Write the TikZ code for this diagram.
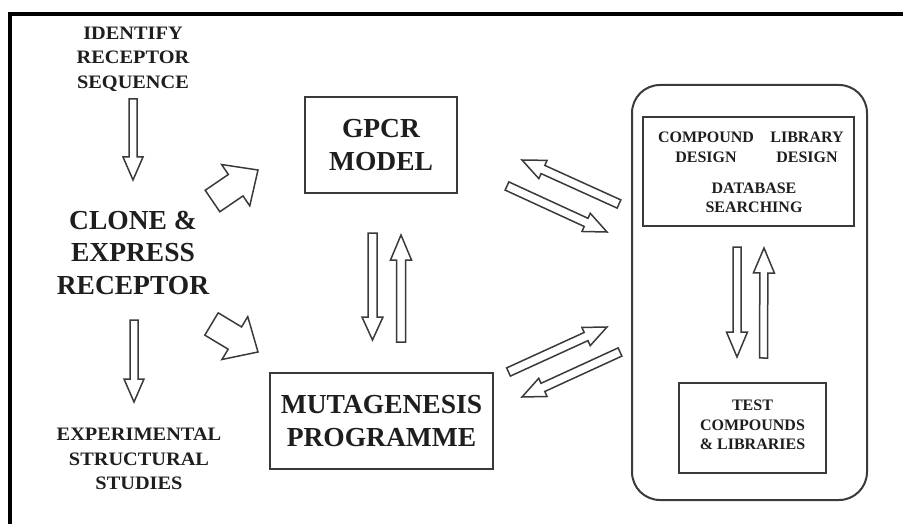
\documentclass[tikz,border=0pt]{standalone}
\usepackage{fontspec}
\setmainfont{Liberation Serif}
\newfontfamily\widefont[FakeStretch=1.07]{Liberation Serif}
\usetikzlibrary{calc}
\definecolor{ink}{HTML}{1E1E1E}
\definecolor{edge}{HTML}{3A3A3A}

% Outlined block arrow from #1 to #2: half shaft width #3, half head width #4, head length #5
\newcommand\hollowarrow[5]{%
  \coordinate (#1-b) at ($(#2)!#5!(#1)$);
  \draw[arrowline]
    ($(#1)!#3!90:(#2)$) -- ($(#1-b)!#3!-90:(#1)$) -- ($(#1-b)!#4!-90:(#1)$)
    -- (#2) -- ($(#1-b)!#4!90:(#1)$) -- ($(#1-b)!#3!90:(#1)$)
    -- ($(#1)!#3!-90:(#2)$) -- cycle;}

\begin{document}
\begin{tikzpicture}[x=1pt,y=-1pt,
  bigtext/.style={font=\bfseries\fontsize{27.5}{32.5}\selectfont, text=ink, align=center, inner sep=0pt},
  smalltext/.style={font=\widefont\bfseries\fontsize{19}{24.5}\selectfont, text=ink, align=center, inner sep=0pt},
  tinytext/.style={font=\bfseries\fontsize{16}{19.5}\selectfont, text=ink, align=center, inner sep=0pt},
  stepbox/.style={draw=edge, line width=2.2pt, inner sep=0pt},
  arrowline/.style={draw=edge, line width=1.5pt, line join=miter},
]
\useasboundingbox (0,0) rectangle (903,524);

% page frame (top and left rules)
\fill[black] (8,12) rectangle (903,16);
\fill[black] (8,12) rectangle (12,524);

% left column
\node[smalltext] (identify) at (133,59) {IDENTIFY\\RECEPTOR\\SEQUENCE};
\node[bigtext] (clone) at (133,252.5) {CLONE \&\\EXPRESS\\RECEPTOR};
\node[smalltext] (exper) at (139,459) {EXPERIMENTAL\\STRUCTURAL\\STUDIES};

% middle column
\node[stepbox, bigtext, minimum width=152pt, minimum height=96pt] (gpcr) at (381,145) {GPCR\\MODEL};
\node[stepbox, bigtext, minimum width=223pt, minimum height=96pt] (muta) at (381.5,421) {MUTAGENESIS\\PROGRAMME};

% right-hand design / test cycle
\node[draw=edge, line width=2pt, rounded corners=28pt, minimum width=235pt, minimum height=415pt] (cycle) at (749.5,292.5) {};
\node[stepbox, minimum width=211pt, minimum height=109pt] (design) at (748.5,171.5) {};
\node[tinytext] (cmpd) at (706,147.5) {COMPOUND\\DESIGN};
\node[tinytext] (lib) at (807,147.5) {LIBRARY\\DESIGN};
\node[tinytext] (dbase) at (754,198) {DATABASE\\SEARCHING};
\node[stepbox, minimum width=147pt, minimum height=90pt] (test) at (752.5,428) {};
\node[tinytext] (testtext) at (752.5,425) {TEST\\COMPOUNDS\\\& LIBRARIES};

% arrow end points
\coordinate (idA) at (133,99);    \coordinate (idB) at (133,180);
\coordinate (clA) at (134,320);   \coordinate (clB) at (134,402);
\coordinate (upA) at (212.5,201); \coordinate (upB) at (258,170);
\coordinate (dnA) at (211.5,324); \coordinate (dnB) at (258,352);
\coordinate (mdA) at (372.5,233); \coordinate (mdB) at (372.5,340);
\coordinate (muA) at (401,342);   \coordinate (muB) at (401,235);
\coordinate (g1A) at (619,204);   \coordinate (g1B) at (522,160);
\coordinate (g2A) at (507,186);   \coordinate (g2B) at (607,232);
\coordinate (m1A) at (508.5,372); \coordinate (m1B) at (607,327);
\coordinate (m2A) at (620,352);   \coordinate (m2B) at (522,397);
\coordinate (idnA) at (737,247);  \coordinate (idnB) at (737,357);
\coordinate (iupA) at (763.5,358);\coordinate (iupB) at (764,248);

% arrows
\hollowarrow{idA}{idB}{4pt}{10pt}{23pt}
\hollowarrow{clA}{clB}{4pt}{10pt}{23pt}
\hollowarrow{upA}{upB}{13pt}{25pt}{27pt}
\hollowarrow{dnA}{dnB}{13pt}{25pt}{27pt}
\hollowarrow{mdA}{mdB}{4.5pt}{10.5pt}{23pt}
\hollowarrow{muA}{muB}{4.5pt}{10.5pt}{25pt}
\hollowarrow{g1A}{g1B}{4.5pt}{10pt}{23pt}
\hollowarrow{g2A}{g2B}{4.5pt}{10pt}{23pt}
\hollowarrow{m1A}{m1B}{4.5pt}{10pt}{23pt}
\hollowarrow{m2A}{m2B}{4.5pt}{10pt}{23pt}
\hollowarrow{idnA}{idnB}{4pt}{10.5pt}{25pt}
\hollowarrow{iupA}{iupB}{4pt}{10.5pt}{25pt}
\end{tikzpicture}
\end{document}
